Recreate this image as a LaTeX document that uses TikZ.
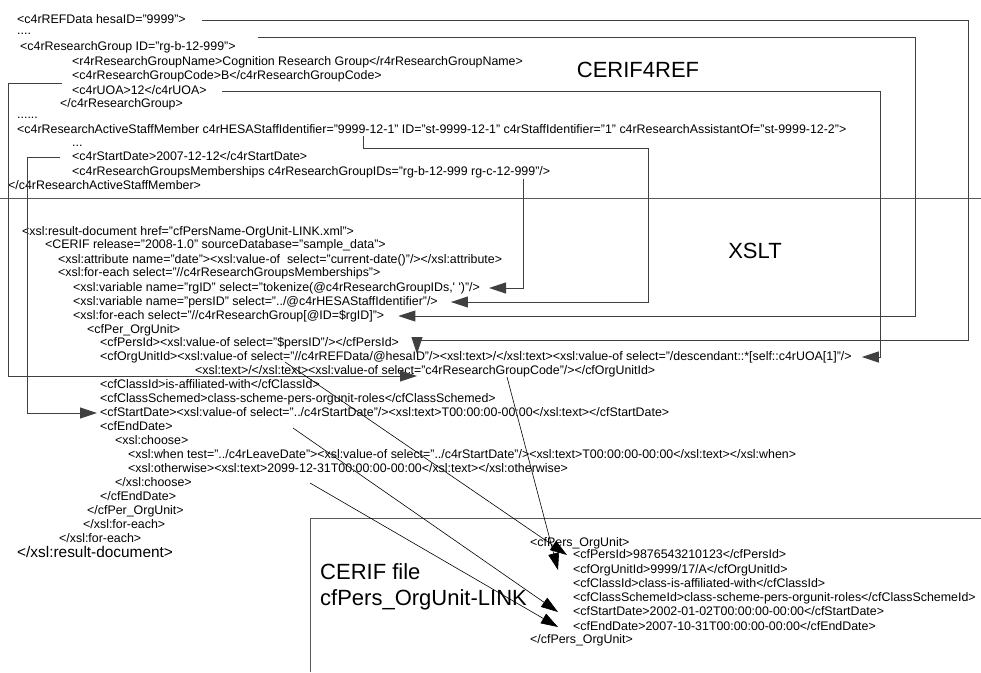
\documentclass[tikz,border=0pt]{standalone}
\usepackage{fontspec}
\setmainfont{Liberation Sans}
\usetikzlibrary{%
    arrows.meta,
    calc,
    positioning
}
\tikzset{code/.style = {anchor=west, inner sep=0pt, text height=9pt, text depth=2.5pt, font=\fontsize{12.4}{14}\selectfont}}
\tikzset{caption/.style = {inner sep=0pt, font=\fontsize{22}{26}\selectfont}}
\tikzset{frame/.style = {draw=black!65, line width=0.9pt}}
\tikzset{feedarrow/.style = {draw=black!75, line width=0.9pt, -{Triangle[length=17pt,width=11pt]}}}
\tikzset{maparrow/.style = {draw=black, line width=0.6pt, -{Triangle[length=17pt,width=11pt]}}}

\begin{document}
\begin{tikzpicture}[x=1pt, y=-1pt]
    \useasboundingbox (0,0) rectangle (981,672);

    % CERIF4REF source
    \node[code] (refdata)    at (17,20)  {<c4rREFData hesaID="9999">};
    \node[code] (dotsA)      at (17,31)  {....};
    \node[code] (rgroup)     at (20,47)  {<c4rResearchGroup ID="rg-b-12-999">};
    \node[code] (rgname)     at (72,62)  {<r4rResearchGroupName>Cognition Research Group</r4rResearchGroupName>};
    \node[code] (rgcode)     at (72,76)  {<c4rResearchGroupCode>B</c4rResearchGroupCode>};
    \node[code] (uoa)        at (72,91)  {<c4rUOA>12</c4rUOA>};
    \node[code] (rgclose)    at (60,104) {</c4rResearchGroup>};
    \node[code] (dotsB)      at (17,115) {......};
    \node[code] (staff)      at (17,130) {<c4rResearchActiveStaffMember c4rHESAStaffIdentifier="9999-12-1" ID="st-9999-12-1" c4rStaffIdentifier="1" c4rResearchAssistantOf="st-9999-12-2">};
    \node[code] (dotsC)      at (72,143) {...};
    \node[code] (startdate)  at (72,157) {<c4rStartDate>2007-12-12</c4rStartDate>};
    \node[code] (members)    at (72,172) {<c4rResearchGroupsMemberships c4rResearchGroupIDs="rg-b-12-999 rg-c-12-999"/>};
    \node[code] (staffclose) at (8,186)  {</c4rResearchActiveStaffMember>};
    \node[caption] (cerif4ref) at (638,70) {CERIF4REF};

    % XSLT
    \node[code] (resultdoc)   at (22,232)  {<xsl:result-document href="cfPersName-OrgUnit-LINK.xml">};
    \node[code] (cerif)       at (45,245)  {<CERIF release="2008-1.0" sourceDatabase="sample\_data">};
    \node[code] (attr)        at (58,260)  {<xsl:attribute name="date"><xsl:value-of\ \ select="current-date()"/></xsl:attribute>};
    \node[code] (foreachM)    at (58,273)  {<xsl:for-each select="//c4rResearchGroupsMemberships">};
    \node[code] (rgvar)       at (73,288)  {<xsl:variable name="rgID" select="tokenize(@c4rResearchGroupIDs,\textquotesingle\ \textquotesingle)"/>};
    \node[code] (persvar)     at (73,302)  {<xsl:variable name="persID" select="../@c4rHESAStaffIdentifier"/>};
    \node[code] (foreachG)    at (73,316)  {<xsl:for-each select="//c4rResearchGroup[@ID=\$rgID]">};
    \node[code] (perOpen)     at (87,330)  {<cfPer\_OrgUnit>};
    \node[code] (persId)      at (100,343) {<cfPersId><xsl:value-of select="\$persID"/></cfPersId>};
    \node[code] (orgUnitA)    at (100,357) {<cfOrgUnitId><xsl:value-of select="//c4rREFData/@hesaID"/><xsl:text>/</xsl:text><xsl:value-of select="/descendant::*[self::c4rUOA[1]"/>};
    \node[code] (orgUnitB)    at (195,371) {<xsl:text>/</xsl:text><xsl:value-of select="c4rResearchGroupCode"/></cfOrgUnitId>};
    \node[code] (classId)     at (100,385) {<cfClassId>is-affiliated-with</cfClassId>};
    \node[code] (classScheme) at (100,399) {<cfClassSchemed>class-scheme-pers-orgunit-roles</cfClassSchemed>};
    \node[code] (cfStart)     at (100,413) {<cfStartDate><xsl:value-of select="../c4rStartDate"/><xsl:text>T00:00:00-00:00</xsl:text></cfStartDate>};
    \node[code] (cfEnd)       at (100,427) {<cfEndDate>};
    \node[code] (choose)      at (115,441) {<xsl:choose>};
    \node[code] (when)        at (128,455) {<xsl:when test="../c4rLeaveDate"><xsl:value-of select="../c4rStartDate"/><xsl:text>T00:00:00-00:00</xsl:text></xsl:when>};
    \node[code] (otherwise)   at (128,469) {<xsl:otherwise><xsl:text>2099-12-31T00:00:00-00:00</xsl:text></xsl:otherwise>};
    \node[code] (chooseClose) at (115,483) {</xsl:choose>};
    \node[code] (cfEndClose)  at (100,497) {</cfEndDate>};
    \node[code] (perClose)    at (87,511)  {</cfPer\_OrgUnit>};
    \node[code] (eachCloseA)  at (83,525)  {</xsl:for-each>};
    \node[code] (eachCloseB)  at (59,539)  {</xsl:for-each>};
    \node[code, text height=11pt, text depth=3pt, font=\fontsize{15.4}{18}\selectfont]
                (resultClose) at (17,553)  {</xsl:result-document>};
    \node[caption] (xslt) at (755,251) {XSLT};

    % CERIF result file
    \draw[frame] (0,198) -- (981,198);
    \draw[frame] (310,672) -- (310,518) -- (981,518);
    \node[caption, anchor=west, align=left] (cerifFile) at (320,587) {CERIF file\\cfPers\_OrgUnit-LINK};
    \node[code] (rPers)        at (530,543) {<cfPers\_OrgUnit>};
    \node[code] (rPersId)      at (573,555) {<cfPersId>9876543210123</cfPersId>};
    \node[code] (rOrgUnitId)   at (573,570) {<cfOrgUnitId>9999/17/A</cfOrgUnitId>};
    \node[code] (rClassId)     at (573,584) {<cfClassId>class-is-affiliated-with</cfClassId>};
    \node[code] (rClassScheme) at (573,598) {<cfClassSchemeId>class-scheme-pers-orgunit-roles</cfClassSchemeId>};
    \node[code] (rStart)       at (573,612) {<cfStartDate>2002-01-02T00:00:00-00:00</cfStartDate>};
    \node[code] (rEnd)         at (573,627) {<cfEndDate>2007-10-31T00:00:00-00:00</cfEndDate>};
    \node[code] (rPersClose)   at (530,640) {</cfPers\_OrgUnit>};

    % free ends inside the listings
    \coordinate (groupOut) at (258,37);
    \coordinate (staffOut) at (363,136);
    \coordinate (groupIDs) at (523,179);
    \coordinate (hesaIn)   at (417,354);
    \coordinate (codeIn)   at (417,376);
    \coordinate (persOut)  at (285,362);
    \coordinate (codeOut)  at (507,377);
    \coordinate (startOut) at (293,428);
    \coordinate (endOut)   at (310,483);

    % source to stylesheet
    \draw[feedarrow] ([xshift=16pt]refdata.east) -- (968,20) -- (968,340) -| (hesaIn);
    \draw[feedarrow] (groupOut) -- (915,37) |- ([xshift=14pt]foreachG.east);
    \draw[feedarrow] ([xshift=15pt]uoa.east) -- (880,91) |- ([xshift=10pt]orgUnitA.east);
    \draw[feedarrow] (staffOut) |- (648,148) |- ([xshift=13pt]persvar.east);
    \draw[feedarrow] (groupIDs) |- ([xshift=9pt]rgvar.east);
    \draw[feedarrow] ([xshift=-10pt, yshift=-7pt]rgcode.west) -- (8,83) |- (codeIn);
    \draw[feedarrow] ([xshift=-12pt]startdate.west) -- (27,157) |- ([xshift=-3pt]cfStart.west);

    % stylesheet to result
    \foreach \Source/\Target/\Gap in {%
        persOut/rPersId/6,
        codeOut/rOrgUnitId/15,
        startOut/rStart/15,
        endOut/rEnd/15%
        }
        \draw[maparrow] (\Source) -- ([xshift=-\Gap pt]\Target.west);
\end{tikzpicture}
\end{document}
